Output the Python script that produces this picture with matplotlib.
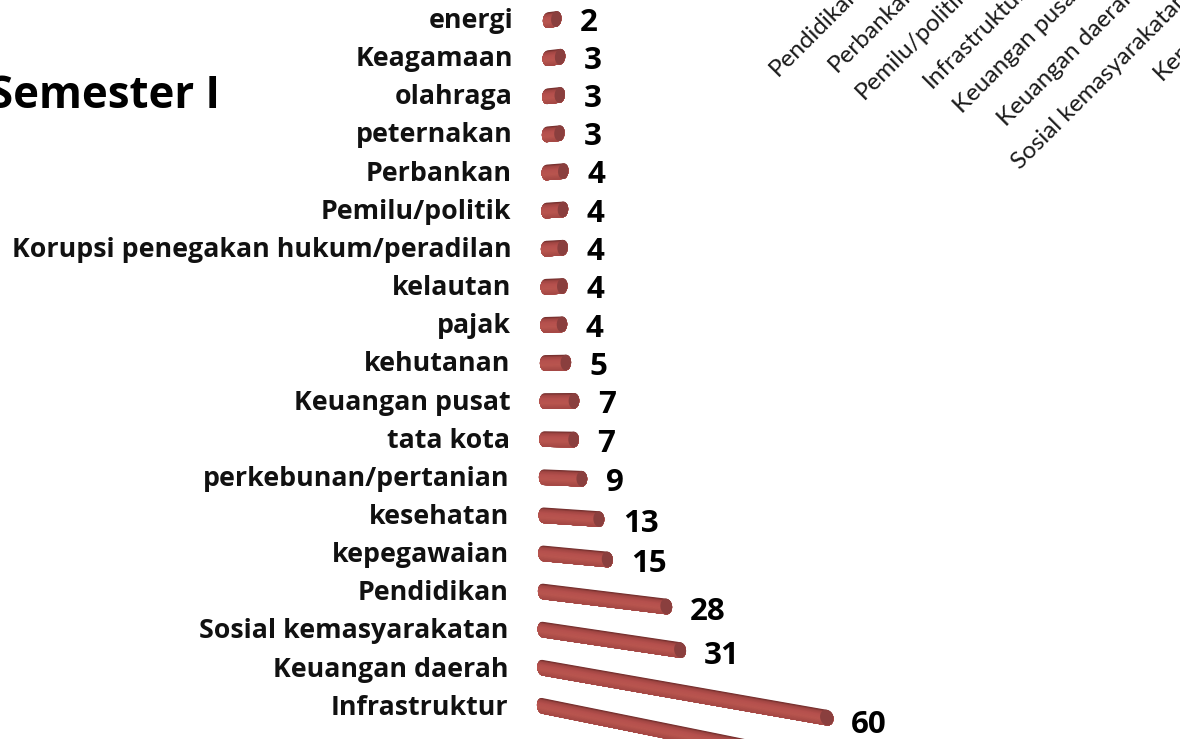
import numpy as np
import matplotlib
matplotlib.use("Agg")
from matplotlib import pyplot as plt
from matplotlib.colors import to_rgb
from matplotlib.transforms import Transform

categories = ["energi", "Keagamaan", "olahraga", "peternakan", "Perbankan", "Pemilu/politik",
              "Korupsi penegakan hukum/peradilan", "kelautan", "pajak", "kehutanan",
              "Keuangan pusat", "tata kota", "perkebunan/pertanian", "kesehatan", "kepegawaian",
              "Pendidikan", "Sosial kemasyarakatan", "Keuangan daerah", "Infrastruktur"]
values = [2, 3, 3, 3, 4, 4, 4, 4, 4, 5, 7, 7, 9, 13, 15, 28, 31, 60, 66]
value_labels = ["2", "3", "3", "3", "4", "4", "4", "4", "4", "5", "7", "7", "9", "13", "15", "28", "31", "60", ""]

top_labels = ["Pendidikan", "Perbankan", "Pemilu/politik", "Infrastruktur", "Keuangan pusat",
              "Keuangan daerah", "Sosial kemasyarakatan", "Kepegawaian"]
top_anchor_x = [778, 837, 864, 932, 962, 1006, 1020, 1162]
top_anchor_y = [77, 73, 100, 89, 114, 127, 170, 81]

TITLE = "Semester I"
LABEL_FONT = "Open Sans"
TOP_FONT = "Lato"


# the bars are a tilted 3D chart, each row fans out from a point far to the left
class BarProjection(Transform):
    input_dims = 2
    output_dims = 2

    def transform_non_affine(self, points):
        points = np.asarray(points, dtype=float)
        v = points[:, 0]
        r = points[:, 1]
        row = np.round(r)
        x0 = 548 - 0.33 * r
        y0 = 20 + 38.1 * r
        x = x0 + 4.1 * v * (1 + 0.0026 * v)
        slope = np.where(row > 10.5, 0.027, 0.012) * (row - 10.5)
        y = y0 + slope * (x - x0)
        return np.column_stack([x, y])


fig = plt.figure(figsize=(11.8, 7.39), dpi=100)
ax = fig.add_axes([0, 0, 1, 1])
ax.set_xlim(0, 1180)
ax.set_ylim(739, 0)
ax.axis("off")
ax.autoscale(False)

proj = BarProjection()
bar_trans = proj + ax.transData

half_h = 0.205
half_w = 1.25
shade_t = [-1.0, -0.72, -0.3, 0.3, 1.0]
shade_c = np.array([to_rgb(c) for c in ["#6a2a29", "#a04643", "#b5504d", "#b9564f", "#a34744"]])
cap_color = "#8a3f3e"

strips = np.linspace(-1, 1, 25)[:-1]
theta = np.linspace(0, 2 * np.pi, 50)

for row, val in enumerate(values):
    # painted top to bottom, each strip covers everything under it so no seams show
    for t in strips:
        color = [np.interp(t + 0.04, shade_t, shade_c[:, i]) for i in range(3)]
        start = np.arcsin(t)
        arc = np.linspace(start, np.pi / 2, 12)
        xs = np.concatenate([val + half_w * np.cos(arc), -half_w * np.cos(arc[::-1])])
        ys = row + half_h * np.concatenate([np.sin(arc), np.sin(arc[::-1])])
        ax.fill(xs, ys, color=color, lw=0, transform=bar_trans, zorder=2)
    # end cap
    ax.fill(val + half_w * np.cos(theta), row + half_h * np.sin(theta), color=cap_color, lw=0,
            transform=bar_trans, zorder=3)

    # category + value text
    ax.text(513 - 0.28 * row, 21 + 38.15 * row, categories[row], ha="right", va="center",
            fontsize=19.3, fontweight="bold", family=LABEL_FONT, color="#111111")
    end_x, end_y = proj.transform(np.array([[val, row]]))[0]
    ax.text(end_x + 24, end_y + 4 + val * 0.05, value_labels[row], ha="left", va="center",
            fontsize=22.5, fontweight="bold", family=LABEL_FONT, color="black")

ax.text(220, 96, TITLE, ha="right", va="center", fontsize=31.5, fontweight="bold",
        family=LABEL_FONT, color="black")

for label, x, y in zip(top_labels, top_anchor_x, top_anchor_y):
    ax.text(x, y, label, rotation=45, rotation_mode="anchor", ha="left", va="baseline",
            fontsize=17.5, family=TOP_FONT, color="#1a1a1a")

plt.savefig("out.png", dpi=100)
